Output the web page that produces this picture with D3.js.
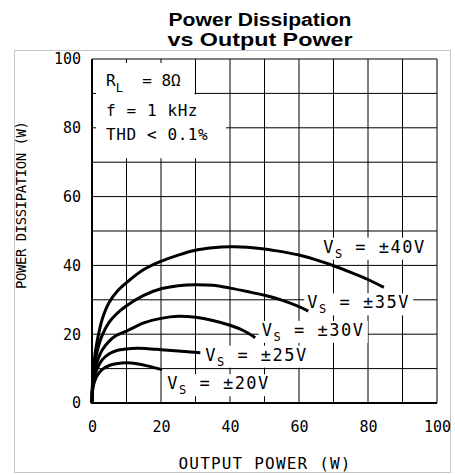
<!DOCTYPE html>
<html>
<head>
<meta charset="utf-8">
<script src="https://cdn.jsdelivr.net/npm/d3@7"></script>
<style>
  html, body { margin: 0; padding: 0; background: #fff; }
  svg { display: block; }
</style>
</head>
<body>
<svg id="chart" width="455" height="475"></svg>
<script>
// Tick labels and grid divisions
const xTickValues = [0, 20, 40, 60, 80, 100];
const yTickValues = [0, 20, 40, 60, 80, 100];
const gridValues = [0, 10, 20, 30, 40, 50, 60, 70, 80, 90, 100];

// Supply voltages, one curve each
const supplies = ["±40V", "±35V", "±30V", "±25V", "±20V"];

// Output power (W) and power dissipation (W) along each curve
const pOut40  = [0, 0.15, 0.6, 1.5, 3, 5, 7.5, 10, 15, 20, 25, 30, 35, 40, 45, 50, 55, 60, 65, 70, 75, 80, 84.6];
const pDiss40 = [0, 6, 12, 18, 24.5, 29.3, 32.7, 35, 38.8, 41.2, 43, 44.4, 45.1, 45.4, 45.3, 44.8, 44, 43, 41.6, 39.9, 38, 35.9, 33.6];

const pOut35  = [0, 0.15, 0.6, 1.5, 3, 5, 7, 9.6, 15, 20, 25, 30, 35, 40, 45, 50, 55, 60, 62.7];
const pDiss35 = [0, 5, 10, 15, 19.8, 23.5, 25.8, 28, 31.3, 33.2, 34.1, 34.4, 34.2, 33.4, 32.4, 31.3, 29.9, 28, 26.7];

const pOut30  = [0, 0.15, 0.6, 1.5, 3, 5, 7, 10, 15, 20, 25, 30, 35, 40, 44, 47.3];
const pDiss30 = [0, 4.5, 8.5, 12, 15.5, 18, 19.6, 20.9, 23.3, 24.6, 25.2, 24.9, 24.0, 22.6, 21, 19.0];

const pOut25  = [0, 0.15, 0.6, 1.5, 3, 5, 7, 10, 13, 16, 20, 25, 31.4];
const pDiss25 = [0, 4, 7, 10, 12.6, 14.3, 15.2, 15.7, 15.9, 15.8, 15.5, 15.1, 14.6];

const pOut20  = [0, 0.15, 0.6, 1.5, 3, 5, 7, 10, 13, 16, 20.3];
const pDiss20 = [0, 3.5, 5.8, 8, 9.8, 10.9, 11.4, 11.7, 11.4, 10.8, 9.7];

// Conditions printed in the box at top left
const conditions = ["f = 1 kHz", "THD < 0.1%"];

const series = [
  { name: supplies[0], x: pOut40, y: pDiss40 },
  { name: supplies[1], x: pOut35, y: pDiss35 },
  { name: supplies[2], x: pOut30, y: pDiss30 },
  { name: supplies[3], x: pOut25, y: pDiss25 },
  { name: supplies[4], x: pOut20, y: pDiss20 }
];

// Label anchors (data units) for each curve's V_S tag
const labelAnchors = [[67.0, 43.7], [62.4, 27.5], [49.2, 19.5], [32.8, 12.3], [21.8, 4.0]];

const svg = d3.select("#chart");
const x = d3.scaleLinear().domain([0, 100]).range([92, 437]);
const y = d3.scaleLinear().domain([0, 100]).range([403, 59]);

const mono = "'DejaVu Sans Mono', monospace";

// Light outer frame
svg.append("rect")
  .attr("x", 14.5).attr("y", 50.5)
  .attr("width", 436).attr("height", 422)
  .attr("fill", "none").attr("stroke", "#c6c6c6").attr("stroke-width", 1);

// Title
const title = svg.append("g")
  .attr("font-family", "'Liberation Sans', Arial, sans-serif")
  .attr("font-weight", "bold").attr("font-size", 18)
  .attr("text-anchor", "middle").attr("fill", "#000");
title.append("text").attr("x", 260).attr("y", 25.5)
  .attr("textLength", 183).attr("lengthAdjust", "spacingAndGlyphs")
  .text("Power Dissipation");
title.append("text").attr("x", 260).attr("y", 46)
  .attr("textLength", 185).attr("lengthAdjust", "spacingAndGlyphs")
  .text("vs Output Power");

// Grid
const grid = svg.append("g").attr("stroke", "#000").attr("stroke-width", 1);
grid.selectAll("line.v").data(gridValues).join("line")
  .attr("class", "v")
  .attr("x1", d => x(d)).attr("x2", d => x(d))
  .attr("y1", y(0)).attr("y2", y(100));
grid.selectAll("line.h").data(gridValues).join("line")
  .attr("class", "h")
  .attr("y1", d => y(d)).attr("y2", d => y(d))
  .attr("x1", x(0)).attr("x2", x(100));

// Plot frame: heavier left and bottom axes
svg.append("line").attr("x1", x(0)).attr("x2", x(0)).attr("y1", y(0) + 1).attr("y2", y(100))
  .attr("stroke", "#000").attr("stroke-width", 2);
svg.append("line").attr("x1", x(0) - 1).attr("x2", x(100)).attr("y1", y(0)).attr("y2", y(0))
  .attr("stroke", "#000").attr("stroke-width", 2);

// Conditions box (blanks the grid behind the text, leaving short stubs)
const stub = 4;
svg.append("rect")
  .attr("x", x(0) + stub).attr("y", y(100) + stub)
  .attr("width", x(30) - 1 - (x(0) + stub))
  .attr("height", (y(70) - stub) - (y(100) + stub))
  .attr("fill", "#fff");
svg.append("rect")
  .attr("x", x(30) - 1).attr("y", y(90) + 1)
  .attr("width", (x(40) - stub) - (x(30) - 1))
  .attr("height", (y(70) - stub) - (y(90) + 1))
  .attr("fill", "#fff");

const cond = svg.append("g").attr("font-family", mono).attr("font-size", 16).attr("fill", "#000");
const rl = cond.append("text").attr("x", 106).attr("y", 86).attr("xml:space", "preserve");
rl.append("tspan").text("R");
rl.append("tspan").attr("font-size", 12).attr("dy", 6).text("L");
rl.append("tspan").attr("dy", -6).text("  = 8Ω");
cond.selectAll("text.c").data(conditions).join("text")
  .attr("class", "c")
  .attr("x", 106)
  .attr("y", (d, i) => [115.5, 140][i])
  .attr("letter-spacing", 0.6)
  .text(d => d);

// Curve labels with white backing
const labelG = svg.append("g");
const labels = labelG.selectAll("g.lab").data(series).join("g")
  .attr("class", "lab")
  .attr("transform", (d, i) => `translate(${x(labelAnchors[i][0])},${y(labelAnchors[i][1])})`);
labels.append("rect")
  .attr("x", -3).attr("y", -15)
  .attr("width", 109).attr("height", 22)
  .attr("fill", "#fff");
const lt = labels.append("text")
  .attr("font-family", mono).attr("font-size", 17)
  .attr("letter-spacing", 1.5).attr("fill", "#000");
lt.append("tspan").text("V");
lt.append("tspan").attr("font-size", 12).attr("dy", 5).text("S");
lt.append("tspan").attr("dy", -5).attr("xml:space", "preserve").text(d => " = " + d.name);

// Curves
const line = d3.line()
  .x(d => x(d[0])).y(d => y(d[1]))
  .curve(d3.curveCatmullRom.alpha(0.5));
svg.append("g").selectAll("path").data(series).join("path")
  .attr("d", s => line(s.x.map((v, i) => [v, s.y[i]])))
  .attr("fill", "none").attr("stroke", "#000")
  .attr("stroke-width", 3).attr("stroke-linecap", "butt").attr("stroke-linejoin", "round");

// Axes tick labels
const xAxis = d3.axisBottom(x).tickValues(xTickValues).tickSize(0).tickPadding(18);
const gx = svg.append("g").attr("transform", `translate(0,${y(0)})`).call(xAxis);
gx.select(".domain").remove();
gx.selectAll("text").attr("font-family", mono).attr("font-size", 15).attr("fill", "#000");

const yAxis = d3.axisLeft(y).tickValues(yTickValues).tickSize(0).tickPadding(11);
const gy = svg.append("g").attr("transform", `translate(${x(0)},0)`).call(yAxis);
gy.select(".domain").remove();
gy.selectAll("text").attr("font-family", mono).attr("font-size", 15).attr("fill", "#000");

// Axis titles
svg.append("text")
  .attr("x", x(50)).attr("y", 469)
  .attr("text-anchor", "middle")
  .attr("font-family", mono).attr("font-size", 16)
  .attr("textLength", 172).attr("lengthAdjust", "spacing")
  .attr("fill", "#000")
  .text("OUTPUT POWER (W)");
svg.append("text")
  .attr("transform", "translate(26,205) rotate(-90)")
  .attr("text-anchor", "middle")
  .attr("font-family", mono).attr("font-size", 14)
  .attr("textLength", 168).attr("lengthAdjust", "spacing")
  .attr("fill", "#000")
  .text("POWER DISSIPATION (W)");
</script>
</body>
</html>
